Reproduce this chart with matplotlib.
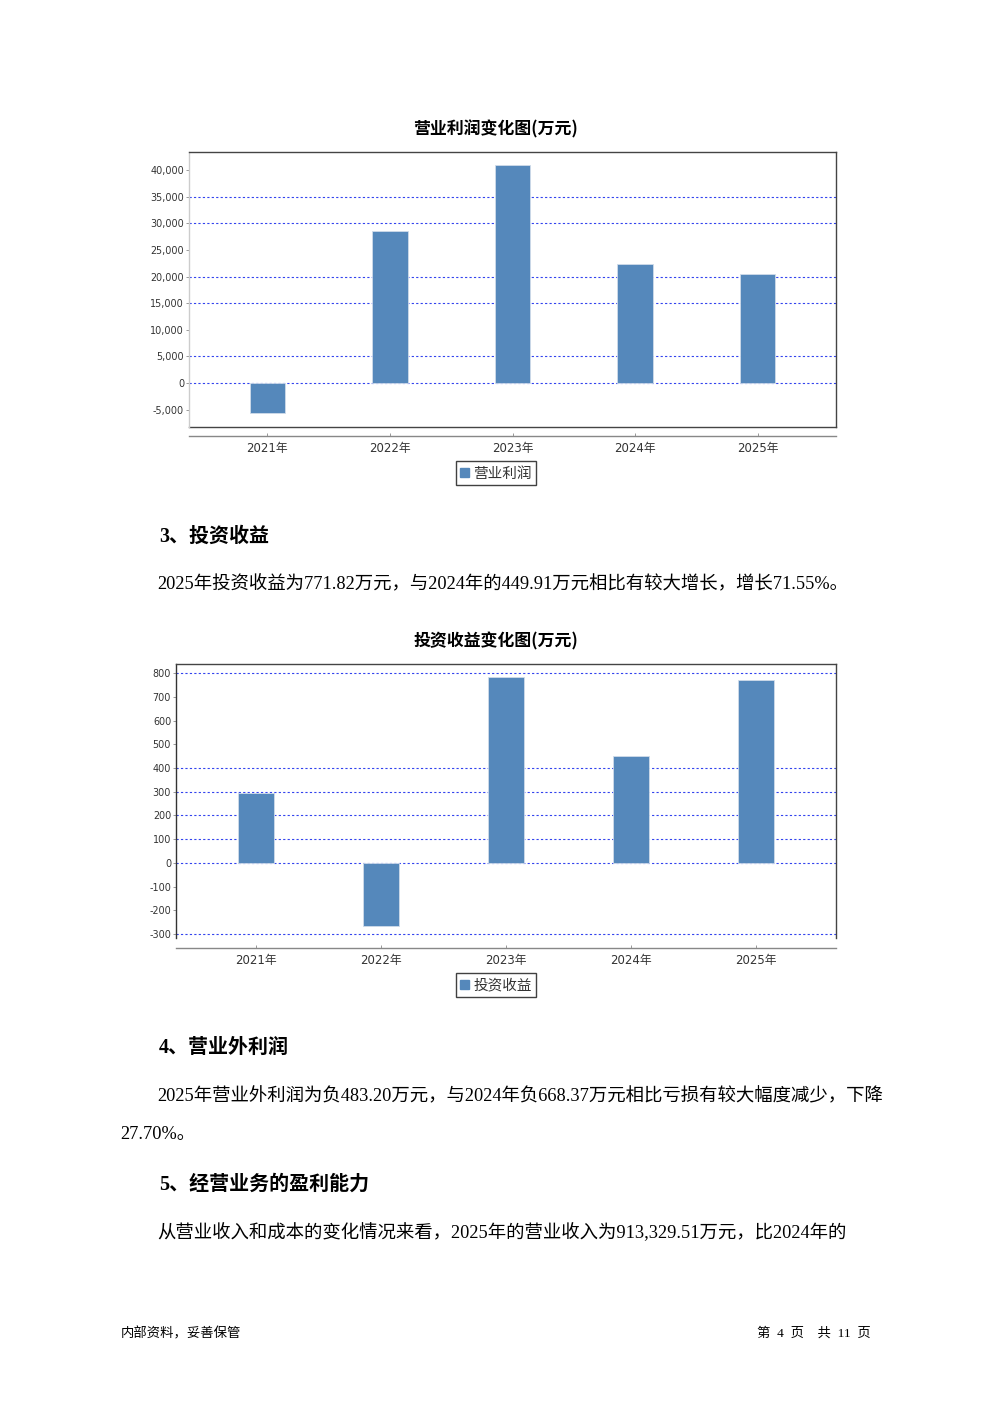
import matplotlib
matplotlib.use("Agg")
import matplotlib.pyplot as plt
from matplotlib.patches import Patch

plt.rcParams['font.family'] = ['DejaVu Sans', 'Noto Sans CJK SC']

W, H = 992, 1403

## -------------  DATA  ------------ ##
years = ['2021年', '2022年', '2023年', '2024年', '2025年']
op_profit = [-5650, 28550, 40950, 22350, 20450]          # 营业利润 (万元)
invest_income = [295, -265, 783, 449.91, 771.82]         # 投资收益 (万元)

op_ticks = list(range(-5000, 40001, 5000))
inv_ticks = list(range(-300, 801, 100))
# dotted grid lines that show up in the reference
op_grid = [35000, 30000, 20000, 15000, 5000, 0]
inv_grid = [800, 400, 300, 200, 100, 0, -300]

BAR = '#5588bb'
GRID = '#3344ee'
SERIF = ['Liberation Serif', 'Noto Sans CJK SC']
CJK = ['Noto Sans CJK SC', 'DejaVu Sans']
BODY = 13.25
HEAD = 14.4


def ax_px(x0, y0, x1, y1):
    return fig.add_axes([x0 / W, 1 - y1 / H, (x1 - x0) / W, (y1 - y0) / H])


def txt(x, y, s, **kw):
    fig.text(x / W, 1 - y / H, s, va='center', **kw)


def bar_chart(box, vals, ylim, ticks, grid, title, title_y, label,
              legend_y, left_color, frame_bottom, offset):
    ax = ax_px(*box)
    ax.bar(range(len(years)), vals, width=0.29, color=BAR,
           edgecolor='#d0dcea', linewidth=0.6, zorder=2)
    for g in grid:
        ax.axhline(g, color=GRID, linestyle=(0, (2, 2)), linewidth=0.8, zorder=1)
    ax.set_xlim(-0.64, len(years) - 1 + 0.64)
    ax.set_ylim(*ylim)
    ax.set_yticks(ticks)
    ax.set_yticklabels(['{:,}'.format(t) for t in ticks])
    ax.set_xticks(range(len(years)))
    ax.set_xticklabels(years)
    ax.tick_params(axis='y', length=2, width=0.6, pad=1.5, labelsize=6.9,
                   color='#888888', labelcolor='#333333')
    ax.tick_params(axis='x', direction='in', length=2, width=0.6, pad=4,
                   labelsize=8.5, color='#888888', labelcolor='#333333')
    for side in ['top', 'right']:
        ax.spines[side].set_color('#444444')
        ax.spines[side].set_linewidth(1.0)
    ax.spines['left'].set_color(left_color)
    ax.spines['left'].set_linewidth(1.0)
    ax.spines['bottom'].set_position(('outward', offset * 72 / 100))
    ax.spines['bottom'].set_color('#888888')
    ax.spines['bottom'].set_linewidth(1.0)
    if frame_bottom:
        ax.plot([0, 1], [0, 0], transform=ax.transAxes, color='#444444',
                linewidth=1.0, clip_on=False)
    txt(496, title_y, title, ha='center', fontsize=12.2, fontweight='bold',
        family=CJK)
    leg = fig.legend(handles=[Patch(color=BAR, label=label)], loc='center',
                     bbox_to_anchor=(496 / W, 1 - legend_y / H), fontsize=10.5,
                     frameon=True, fancybox=False, handlelength=0.6,
                     handleheight=0.6, handletextpad=0.3, borderpad=0.3,
                     borderaxespad=0, labelcolor='#333333')
    leg.get_frame().set_edgecolor('#111111')
    leg.get_frame().set_linewidth(1.0)
    return ax


fig = plt.figure(figsize=(W / 100, H / 100), dpi=100)

## -------------  CHART 1  ------------ ##
bar_chart((189, 152, 836, 427), op_profit, (-8260, 43380), op_ticks, op_grid,
          '营业利润变化图(万元)', 129, '营业利润', 473, '#cccccc', True, 9)

## -------------  TEXT  ------------ ##
txt(159, 537, '3、投资收益', fontsize=HEAD, fontweight='bold', family=SERIF)
txt(157, 585, '2025年投资收益为771.82万元，与2024年的449.91万元相比有较大增长，增长71.55%。',
    fontsize=BODY, family=SERIF)

## -------------  CHART 2  ------------ ##
bar_chart((176, 664, 836, 938), invest_income, (-316, 838), inv_ticks, inv_grid,
          '投资收益变化图(万元)', 641, '投资收益', 985, '#333333', False, 10)

txt(159, 1048, '4、营业外利润', fontsize=HEAD, fontweight='bold', family=SERIF)
txt(157, 1097, '2025年营业外利润为负483.20万元，与2024年负668.37万元相比亏损有较大幅度减少，下降',
    fontsize=BODY, family=SERIF)
txt(120, 1135, '27.70%。', fontsize=BODY, family=SERIF)
txt(159, 1185, '5、经营业务的盈利能力', fontsize=HEAD, fontweight='bold', family=SERIF)
txt(157, 1233, '从营业收入和成本的变化情况来看，2025年的营业收入为913,329.51万元，比2024年的',
    fontsize=BODY, family=SERIF)

## -------------  FOOTER  ------------ ##
txt(121, 1333, '内部资料，妥善保管', fontsize=9.6, family=CJK)
txt(871, 1333, '第  4  页    共  11  页', fontsize=9.6, ha='right', family=SERIF)

fig.savefig('out.png', dpi=100)
